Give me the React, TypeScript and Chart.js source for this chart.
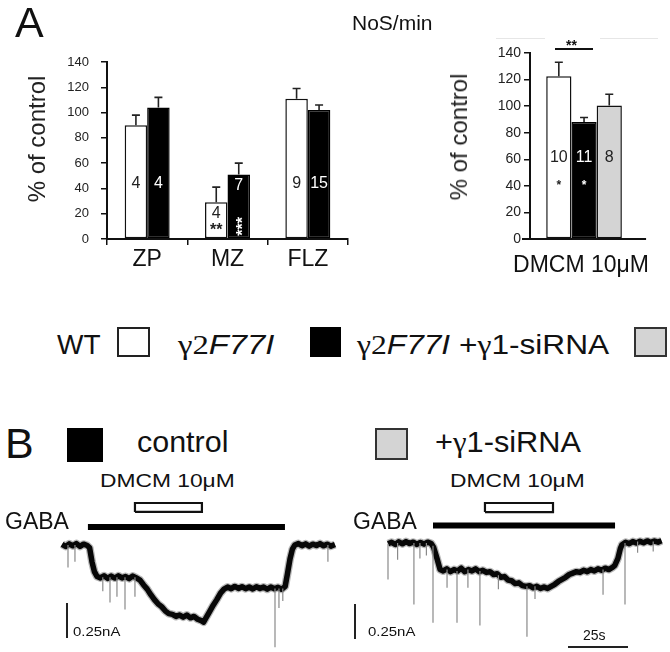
import React, { useEffect, useRef } from 'react';
import { Chart, registerables } from 'chart.js';

Chart.register(...registerables);
Chart.defaults.font.family = '"Liberation Sans", Arial, sans-serif';
Chart.defaults.color = '#222';

// ---------- Panel A: NoS/min by region ----------
const regionLabels = ['ZP', 'MZ', 'FLZ'];
const wtRegion = [90, 29, 111];
const wtRegionErr = [8, 12, 8];
const f77Region = [104, 51, 102];
const f77RegionErr = [8, 9, 4];
const wtRegionN = ['4', '4', '9'];
const f77RegionN = ['4', '7', '15'];
const wtRegionSig = ['', '**', ''];
const f77RegionSig = ['', '***', ''];

// ---------- Panel A: DMCM 10µM ----------
const dmcmLabels = ['DMCM 10μM'];
const dmcmWt = [122.5];
const dmcmF77 = [88];
const dmcmSi = [100.5];
const dmcmErr = [[10.5], [3.5], [8.5]];
const dmcmN = [['10'], ['11'], ['8']];
const dmcmSig = [['*'], ['*'], ['']];

const yTickMax = 140;
const yTickStep = 20;

// ---------- Panel B: current traces (time s, current nA) ----------
const ctrlT = [0, 1.5, 3, 4.5, 6, 7.5, 9, 10.5, 11.5, 12.5, 13.5, 14.6, 16, 17.5, 19, 20.5, 22, 23.5, 25, 26.5, 28, 29.5, 31, 32.5, 34, 35.5, 37, 38.5, 40, 41.5, 43, 44.5, 46, 47.5, 49, 50.5, 52, 53.5, 55, 56.5, 58, 59, 60, 61.5, 63, 64.5, 66, 67.5, 69, 70.5, 72, 73.5, 75, 76.5, 78, 79.5, 81, 82.5, 84, 85.5, 87, 88.5, 90, 91.5, 93, 94, 95, 96, 97, 98.5, 100, 101.5, 103, 104.5, 106, 107.5, 109, 110.5, 112, 113.75];
const ctrlI = [0.005, -0.01, 0.008, -0.006, 0.01, -0.01, 0.006, -0.004, -0.02, -0.12, -0.19, -0.225, -0.235, -0.22, -0.238, -0.222, -0.236, -0.22, -0.235, -0.225, -0.24, -0.222, -0.235, -0.25, -0.285, -0.315, -0.355, -0.39, -0.42, -0.44, -0.47, -0.49, -0.495, -0.51, -0.5, -0.515, -0.5, -0.52, -0.51, -0.53, -0.54, -0.55, -0.52, -0.475, -0.43, -0.39, -0.345, -0.315, -0.3, -0.312, -0.296, -0.31, -0.298, -0.312, -0.3, -0.314, -0.298, -0.31, -0.3, -0.316, -0.3, -0.312, -0.302, -0.316, -0.295, -0.2, -0.1, -0.03, 0.0, 0.01, -0.005, 0.008, -0.008, 0.006, -0.004, 0.01, -0.006, 0.006, -0.008, 0.004];
const ctrlSpikeT = [2.5, 5.4, 17, 20, 22.9, 26.25, 30.4, 88.75, 90.4, 92, 110.8];
const ctrlSpikeBase = [0, 0, -0.23, -0.23, -0.23, -0.23, -0.23, -0.31, -0.31, -0.31, 0];
const ctrlSpikePeak = [-0.16, -0.12, -0.33, -0.41, -0.37, -0.46, -0.37, -0.73, -0.45, -0.4, -0.12];
const ctrlGaba = [10.8, 92.9];
const ctrlDmcm = [30.4, 58.3];

const siT = [0, 1.5, 3, 4.5, 6, 7.5, 9, 10.5, 12, 13.5, 15, 16.5, 18, 19, 20.4, 21.7, 23, 24.5, 26, 27.5, 29, 30.5, 32, 33.5, 35, 36.5, 38, 39.5, 41, 42.5, 44, 45.5, 47, 48.5, 50, 51.5, 53, 54.5, 56, 57.5, 59, 60.5, 62, 63.5, 65, 66.5, 68, 69.5, 71, 72.5, 74, 75.5, 77, 78.5, 80, 81.5, 83, 84.5, 86, 87.5, 89, 90.5, 92, 93.5, 94.5, 95.8, 96.8, 97.5, 99, 100.5, 102, 103.5, 105, 106.5, 108, 109.5, 111, 112.5, 114];
const siI = [-0.005, 0.005, -0.01, 0.008, -0.006, 0.01, -0.004, 0.006, -0.01, 0.004, -0.008, 0.006, -0.004, -0.03, -0.11, -0.19, -0.2, -0.185, -0.205, -0.19, -0.2, -0.18, -0.205, -0.19, -0.2, -0.185, -0.205, -0.195, -0.21, -0.205, -0.225, -0.22, -0.245, -0.24, -0.265, -0.27, -0.29, -0.285, -0.305, -0.31, -0.305, -0.32, -0.31, -0.325, -0.315, -0.325, -0.31, -0.295, -0.275, -0.26, -0.245, -0.225, -0.215, -0.205, -0.21, -0.195, -0.205, -0.19, -0.2, -0.185, -0.195, -0.18, -0.19, -0.175, -0.16, -0.11, -0.04, -0.012, 0.005, -0.005, 0.01, 0.0, 0.012, 0.002, 0.015, 0.004, 0.014, 0.006, 0.016];
const siSpikeT = [0, 4, 10.8, 13.3, 16, 18.75, 24.6, 28.75, 33.3, 38.3, 46, 57.9, 61.25, 89.6, 98.75, 104, 110.5];
const siSpikeBase = [-0.005, 0, 0, 0, 0, -0.02, -0.19, -0.2, -0.19, -0.2, -0.23, -0.31, -0.31, -0.19, 0, 0.01, 0.01];
const siSpikePeak = [-0.26, -0.12, -0.44, -0.11, -0.09, -0.57, -0.32, -0.57, -0.32, -0.59, -0.33, -0.67, -0.4, -0.37, -0.44, -0.07, -0.06];
const siGaba = [18.75, 94.6];
const siDmcm = [40.4, 68.75];

type Pt = { x: number; y: number | null };

const toPts = (t: number[], v: number[]): Pt[] => t.map((x, i) => ({ x, y: v[i] }));
const spikePts = (t: number[], b: number[], p: number[]): Pt[] => {
  const out: Pt[] = [];
  t.forEach((x, i) => {
    out.push({ x, y: b[i] }, { x, y: p[i] }, { x, y: null });
  });
  return out;
};

function barExtras(cfg: {
  errors: number[][];
  nLabels: string[][];
  sig: string[][];
  nLevel: number;
  sigLevel: number;
  nColors: string[];
  nSize: number;
  sigSize: number;
  axisExt?: [number, number];
}) {
  return {
    id: 'barExtras',
    afterDatasetsDraw(chart: any) {
      const ctx = chart.ctx as CanvasRenderingContext2D;
      const ys = chart.scales.y;
      const area = chart.chartArea;
      if (cfg.axisExt) {
        ctx.save();
        ctx.strokeStyle = '#111';
        ctx.lineWidth = 2;
        ctx.beginPath();
        ctx.moveTo(area.left - cfg.axisExt[0], area.bottom);
        ctx.lineTo(area.right + cfg.axisExt[1], area.bottom);
        ctx.stroke();
        ctx.restore();
      }
      chart.data.datasets.forEach((ds: any, i: number) => {
        const meta = chart.getDatasetMeta(i);
        meta.data.forEach((bar: any, j: number) => {
          const v = ds.data[j] as number;
          const x = bar.x;
          const top = bar.y;
          const et = ys.getPixelForValue(v + cfg.errors[i][j]);
          ctx.save();
          ctx.strokeStyle = '#222';
          ctx.lineWidth = 1.6;
          ctx.beginPath();
          ctx.moveTo(x, top);
          ctx.lineTo(x, et);
          ctx.moveTo(x - 4, et);
          ctx.lineTo(x + 4, et);
          ctx.stroke();
          ctx.fillStyle = cfg.nColors[i];
          ctx.font = `${cfg.nSize}px "Liberation Sans", Arial, sans-serif`;
          ctx.textAlign = 'center';
          ctx.textBaseline = 'middle';
          ctx.fillText(cfg.nLabels[i][j], x, ys.getPixelForValue(Math.min(cfg.nLevel, v - 9)));
          const s = cfg.sig[i][j];
          if (s) {
            const yp = ys.getPixelForValue(cfg.sigLevel);
            ctx.font = `bold ${cfg.sigSize}px "Liberation Sans", Arial, sans-serif`;
            ctx.textBaseline = 'alphabetic';
            if (s.length >= 3) {
              ctx.translate(x, yp);
              ctx.rotate(-Math.PI / 2);
              ctx.fillText(s, 0, cfg.sigSize * 0.57);
            } else {
              ctx.fillText(s, x, yp + cfg.sigSize * 0.57);
            }
          }
          ctx.restore();
        });
      });
    },
  };
}

function yScaleOpts(width: number, fontSize: number, pad: number, tickLen: number) {
  return {
    min: 0,
    max: yTickMax,
    afterFit: (s: any) => {
      s.width = width;
    },
    ticks: { stepSize: yTickStep, font: { size: fontSize }, color: '#222', padding: pad },
    grid: { drawOnChartArea: false, drawTicks: true, tickLength: tickLen, color: '#111', lineWidth: 1.5 },
    border: { display: true, color: '#111', width: 2 },
  };
}

function useChart(build: () => any) {
  const ref = useRef<HTMLCanvasElement | null>(null);
  useEffect(() => {
    if (!ref.current) return;
    const c = new Chart(ref.current, build());
    return () => c.destroy();
  }, []);
  return ref;
}

function RegionChart() {
  const ref = useChart(() => ({
    type: 'bar',
    data: {
      labels: regionLabels,
      datasets: [
        { label: 'WT', data: wtRegion, backgroundColor: '#fff', borderColor: '#111', borderWidth: 1.5, borderSkipped: false },
        { label: 'γ2F77I', data: f77Region, backgroundColor: '#000', borderColor: '#000', borderWidth: 1.5, borderSkipped: false },
      ],
    },
    options: {
      animation: false,
      responsive: false,
      events: [],
      layout: { padding: { top: 22, right: 12, left: 0, bottom: 0 } },
      datasets: { bar: { categoryPercentage: 0.56, barPercentage: 1 } },
      plugins: { legend: { display: false }, tooltip: { enabled: false } },
      scales: {
        x: {
          afterFit: (s: any) => {
            s.height = 61;
          },
          ticks: { font: { size: 23 }, color: '#111', padding: 1 },
          grid: { offset: true, drawOnChartArea: false, tickLength: 6, color: '#111', lineWidth: 1.5 },
          border: { display: true, color: '#111', width: 2 },
        },
        y: yScaleOpts(107, 13, 12, 6),
      },
    },
    plugins: [
      barExtras({
        errors: [wtRegionErr, f77RegionErr],
        nLabels: [wtRegionN, f77RegionN],
        sig: [wtRegionSig, f77RegionSig],
        nLevel: 44,
        sigLevel: 10,
        nColors: ['#222', '#fff'],
        nSize: 16,
        sigSize: 16,
      }),
    ],
  }));
  return <canvas ref={ref} width={360} height={260} style={{ position: 'absolute', left: 0, top: 40 }} />;
}

function DmcmChart() {
  const ref = useChart(() => ({
    type: 'bar',
    data: {
      labels: dmcmLabels,
      datasets: [
        { label: 'WT', data: dmcmWt, backgroundColor: '#fff', borderColor: '#111', borderWidth: 1.5, borderSkipped: false },
        { label: 'γ2F77I', data: dmcmF77, backgroundColor: '#000', borderColor: '#000', borderWidth: 1.5, borderSkipped: false },
        { label: 'γ2F77I +γ1-siRNA', data: dmcmSi, backgroundColor: '#d4d4d4', borderColor: '#111', borderWidth: 1.5, borderSkipped: false },
      ],
    },
    options: {
      animation: false,
      responsive: false,
      events: [],
      layout: { padding: { top: 28, right: 26, left: 0, bottom: 0 } },
      datasets: { bar: { categoryPercentage: 0.7, barPercentage: 1 } },
      plugins: { legend: { display: false }, tooltip: { enabled: false } },
      scales: {
        x: {
          afterFit: (s: any) => {
            s.height = 51;
          },
          ticks: { font: { size: 23 }, color: '#111', padding: 5, labelOffset: -3 },
          grid: { display: false },
          border: { display: false },
        },
        y: yScaleOpts(110, 14, 3, 6),
      },
    },
    plugins: [
      barExtras({
        errors: dmcmErr,
        nLabels: dmcmN,
        sig: dmcmSig,
        nLevel: 61,
        sigLevel: 43,
        nColors: ['#222', '#fff', '#222'],
        nSize: 16,
        sigSize: 12,
        axisExt: [8, 8],
      }),
    ],
  }));
  return <canvas ref={ref} width={250} height={265} style={{ position: 'absolute', left: 420, top: 25 }} />;
}

function TraceChart(p: {
  left: number;
  width: number;
  xMin: number;
  xMax: number;
  yMin: number;
  yMax: number;
  t: number[];
  i: number[];
  spT: number[];
  spB: number[];
  spP: number[];
  gaba: number[];
  gabaLevel: number;
  dmcm: number[];
  dmcmLo: number;
  dmcmHi: number;
  barT: number;
  barI: number[];
  timeBar?: { t: number[]; i: number };
}) {
  const ref = useChart(() => {
    const line = (data: Pt[], color: string, w: number, extra: any = {}) => ({
      data,
      borderColor: color,
      backgroundColor: color,
      borderWidth: w,
      pointRadius: 0,
      tension: 0,
      spanGaps: false,
      fill: false,
      ...extra,
    });
    const tracePts = toPts(p.t, p.i);
    const datasets: any[] = [
      line(spikePts(p.spT, p.spB, p.spP), '#8a8a8a', 1.2),
      line(tracePts, 'rgba(0,0,0,0.28)', 8, { borderJoinStyle: 'round' }),
      line(tracePts, '#0a0a0a', 5.5, { borderJoinStyle: 'round' }),
      line(
        [
          { x: p.gaba[0], y: p.gabaLevel },
          { x: p.gaba[1], y: p.gabaLevel },
        ],
        '#000',
        6,
        { borderCapStyle: 'butt' }
      ),
      line(
        [
          { x: p.dmcm[0], y: p.dmcmLo },
          { x: p.dmcm[1], y: p.dmcmLo },
          { x: p.dmcm[1], y: p.dmcmHi },
          { x: p.dmcm[0], y: p.dmcmHi },
          { x: p.dmcm[0], y: p.dmcmLo },
        ],
        '#111',
        2.2,
        { borderJoinStyle: 'miter' }
      ),
      line(
        [
          { x: p.barT, y: p.barI[0] },
          { x: p.barT, y: p.barI[1] },
        ],
        '#222',
        2
      ),
    ];
    if (p.timeBar) {
      datasets.push(
        line(
          [
            { x: p.timeBar.t[0], y: p.timeBar.i },
            { x: p.timeBar.t[1], y: p.timeBar.i },
          ],
          '#222',
          2
        )
      );
    }
    return {
      type: 'line',
      data: { datasets },
      options: {
        animation: false,
        responsive: false,
        events: [],
        layout: { padding: 0 },
        plugins: { legend: { display: false }, tooltip: { enabled: false } },
        scales: {
          x: { type: 'linear', display: false, min: p.xMin, max: p.xMax },
          y: { type: 'linear', display: false, min: p.yMin, max: p.yMax },
        },
      },
    };
  });
  return <canvas ref={ref} width={p.width} height={157} style={{ position: 'absolute', left: p.left, top: 495 }} />;
}

function Txt(props: { x: number; cap: number; size: number; sx?: number; children: any; style?: any }) {
  const { x, cap, size, sx = 1, children, style = {} } = props;
  return (
    <div
      style={{
        position: 'absolute',
        left: x,
        top: cap - 0.13 * size,
        fontSize: size,
        lineHeight: 1,
        whiteSpace: 'nowrap',
        transform: sx !== 1 ? `scaleX(${sx})` : undefined,
        transformOrigin: 'left top',
        ...style,
      }}
    >
      {children}
    </div>
  );
}

function VTitle(props: { cx: number; cy: number; size: number; children: any }) {
  return (
    <div
      style={{
        position: 'absolute',
        left: props.cx,
        top: props.cy,
        fontSize: props.size,
        lineHeight: 1,
        whiteSpace: 'nowrap',
        transform: 'translate(-50%, -50%) rotate(-90deg)',
        color: '#222',
      }}
    >
      {props.children}
    </div>
  );
}

const serif = { fontFamily: '"Liberation Serif", "Times New Roman", serif' };

function Box(props: { x: number; y: number; w: number; h: number; bg: string; border?: string }) {
  return (
    <div
      style={{
        position: 'absolute',
        left: props.x,
        top: props.y,
        width: props.w,
        height: props.h,
        boxSizing: 'border-box',
        background: props.bg,
        border: props.border || 'none',
      }}
    />
  );
}

function Rule(props: { x: number; y: number; w: number; h: number; color: string }) {
  return <div style={{ position: 'absolute', left: props.x, top: props.y, width: props.w, height: props.h, background: props.color }} />;
}

export default function App() {
  return (
    <div
      style={{
        position: 'absolute',
        left: 0,
        top: 0,
        width: 670,
        height: 652,
        background: '#fff',
        overflow: 'hidden',
        fontFamily: '"Liberation Sans", Arial, sans-serif',
        color: '#111',
      }}
    >
      <RegionChart />
      <DmcmChart />
      <TraceChart
        left={55}
        width={290}
        xMin={-2.917}
        xMax={117.917}
        yMin={-0.764}
        yMax={0.357}
        t={ctrlT}
        i={ctrlI}
        spT={ctrlSpikeT}
        spB={ctrlSpikeBase}
        spP={ctrlSpikePeak}
        gaba={ctrlGaba}
        gabaLevel={0.129}
        dmcm={ctrlDmcm}
        dmcmLo={0.236}
        dmcmHi={0.3}
        barT={2.08}
        barI={[-0.414, -0.664]}
      />
      <TraceChart
        left={345}
        width={325}
        xMin={-17.917}
        xMax={117.5}
        yMin={-0.779}
        yMax={0.343}
        t={siT}
        i={siI}
        spT={siSpikeT}
        spB={siSpikeBase}
        spP={siSpikePeak}
        gaba={siGaba}
        gabaLevel={0.125}
        dmcm={siDmcm}
        dmcmLo={0.221}
        dmcmHi={0.286}
        barT={-13.75}
        barI={[-0.436, -0.686]}
        timeBar={{ t: [75, 100], i: -0.743 }}
      />

      {/* Panel A labels */}
      <Txt x={15} cap={7} size={43}>A</Txt>
      <Txt x={352} cap={15} size={21}>NoS/min</Txt>
      <VTitle cx={37} cy={139} size={24}>% of control</VTitle>
      <VTitle cx={459} cy={137} size={24}>% of control</VTitle>
      <Rule x={496} y={38} w={49} h={1} color="#e6e6e6" />
      <Rule x={600} y={38} w={58} h={1} color="#e6e6e6" />
      <Rule x={555} y={48} w={38} h={2} color="#111" />
      <Txt x={566} cap={40} size={14} style={{ fontWeight: 'bold' }}>**</Txt>

      {/* Legend */}
      <Txt x={57} cap={335} size={28}>WT</Txt>
      <Box x={117} y={327} w={33} h={30} bg="#fff" border="2.5px solid #222" />
      <Txt x={178} cap={335} size={28} sx={1.17}>
        <span style={serif}>γ2</span>
        <i>F77I</i>
      </Txt>
      <Box x={310} y={327} w={31} h={30} bg="#000" />
      <Txt x={357} cap={335} size={28} sx={1.13}>
        <span style={serif}>γ2</span>
        <i>F77I</i> +<span style={serif}>γ</span>1-siRNA
      </Txt>
      <Box x={634} y={327} w={33} h={30} bg="#d4d4d4" border="2.5px solid #333" />

      {/* Panel B labels */}
      <Txt x={5} cap={428} size={43}>B</Txt>
      <Box x={67} y={428} w={36} h={34} bg="#000" />
      <Txt x={137} cap={432} size={29} sx={1.05}>control</Txt>
      <Box x={375} y={428} w={33} h={32} bg="#d4d4d4" border="2.5px solid #333" />
      <Txt x={435} cap={432} size={29} sx={1.06}>
        +<span style={serif}>γ</span>1-siRNA
      </Txt>
      <Txt x={100} cap={473} size={19} sx={1.2}>DMCM 10μM</Txt>
      <Txt x={450} cap={473} size={19} sx={1.2}>DMCM 10μM</Txt>
      <Txt x={5} cap={513} size={23}>GABA</Txt>
      <Txt x={353} cap={513} size={23}>GABA</Txt>
      <Txt x={73} cap={627} size={13} sx={1.15}>0.25nA</Txt>
      <Txt x={368} cap={627} size={13} sx={1.15}>0.25nA</Txt>
      <Txt x={583} cap={630} size={14}>25s</Txt>
    </div>
  );
}
